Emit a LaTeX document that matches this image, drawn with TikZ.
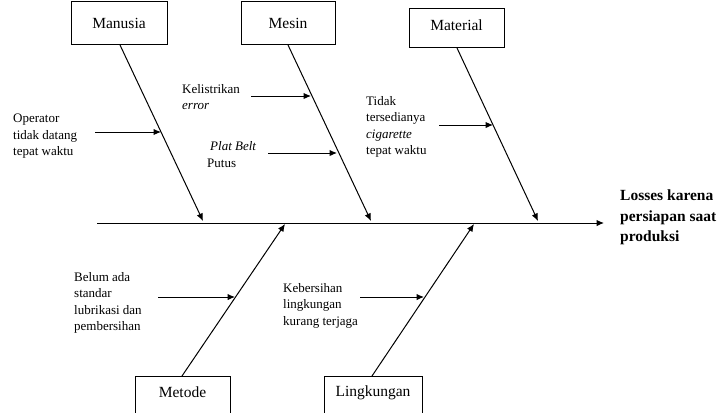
\documentclass[tikz,border=0pt]{standalone}
\usepackage{fontspec}
\setmainfont{Liberation Serif}
\usetikzlibrary{arrows.meta}
\begin{document}
\begin{tikzpicture}[x=1pt,y=-1pt,
  catbox/.style={draw,line width=1pt,inner sep=0pt},
  cattext/.style={font=\fontsize{15.5}{18}\selectfont},
  causetext/.style={anchor=north west,inner sep=0pt,align=left,font=\fontsize{13}{16.5}\selectfont},
  bone/.style={line width=1pt,-{Latex[length=7.5pt,width=6.5pt]}},
  subarrow/.style={line width=1pt,-{Latex[length=7.5pt,width=6.5pt]}}]
\useasboundingbox (0,0) rectangle (719,412);

% category boxes
\node[catbox,minimum width=96pt,minimum height=43pt] (man) at (119,23.5) {};
\node[cattext] (manl) at (119,23.5) {Manusia};
\node[catbox,minimum width=94pt,minimum height=43pt] (mes) at (288,23.5) {};
\node[cattext] (mesl) at (288,23.5) {Mesin};
\node[catbox,minimum width=95pt,minimum height=39pt] (mat) at (456.5,28.5) {};
\node[cattext] (matl) at (456.5,25.5) {Material};
\node[catbox,minimum width=95pt,minimum height=42pt] (met) at (182.5,397) {};
\node[cattext] (metl) at (182.5,392.5) {Metode};
\node[catbox,minimum width=98pt,minimum height=42pt] (lin) at (373,397) {};
\node[cattext] (linl) at (373,392.5) {Lingkungan};

% spine and effect
\coordinate (tail) at (97,223);
\coordinate (head) at (604,223);
\draw[bone] (tail) -- (head);
\node[anchor=north west,inner sep=0pt,align=left,font=\bfseries\fontsize{15.5}{20.5}\selectfont] (effect) at (620,190) {Losses karena\\persiapan saat\\produksi};

% bones
\coordinate (manS) at (120,45);   \coordinate (manE) at (203,221);
\coordinate (mesS) at (288,45);   \coordinate (mesE) at (371,221);
\coordinate (matS) at (457,48);   \coordinate (matE) at (538,221);
\coordinate (metS) at (182,376);  \coordinate (metE) at (285,224);
\coordinate (linS) at (372,376);  \coordinate (linE) at (474,224);
\draw[bone] (manS) -- (manE);
\draw[bone] (mesS) -- (mesE);
\draw[bone] (matS) -- (matE);
\draw[bone] (metS) -- (metE);
\draw[bone] (linS) -- (linE);

% causes
\node[causetext] (c1) at (13,114) {Operator\\tidak datang\\tepat waktu};
\coordinate (c1a) at (95,132);  \coordinate (c1b) at (161,132);
\draw[subarrow] (c1a) -- (c1b);

\node[causetext] (c2) at (182,84) {Kelistrikan\\\textit{error}};
\coordinate (c2a) at (251,96);  \coordinate (c2b) at (311,96);
\draw[subarrow] (c2a) -- (c2b);

\node[causetext] (c3a) at (210,141.5) {\textit{Plat Belt}};
\node[causetext] (c3b) at (207,158.5) {Putus};
\coordinate (c3s) at (268,153); \coordinate (c3e) at (337,153);
\draw[subarrow] (c3s) -- (c3e);

\node[causetext] (c4) at (366,96) {Tidak\\tersedianya\\\textit{cigarette}\\tepat waktu};
\coordinate (c4a) at (439,125); \coordinate (c4b) at (493,125);
\draw[subarrow] (c4a) -- (c4b);

\node[causetext] (c5) at (74,272) {Belum ada\\standar\\lubrikasi dan\\pembersihan};
\coordinate (c5a) at (158,297); \coordinate (c5b) at (235,297);
\draw[subarrow] (c5a) -- (c5b);

\node[causetext] (c6) at (283,283) {Kebersihan\\lingkungan\\kurang terjaga};
\coordinate (c6a) at (360,297); \coordinate (c6b) at (424,297);
\draw[subarrow] (c6a) -- (c6b);
\end{tikzpicture}
\end{document}
